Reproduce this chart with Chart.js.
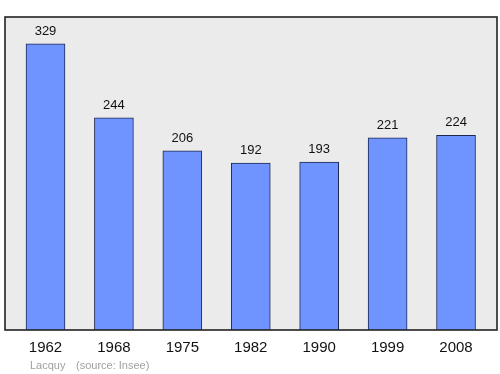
<!DOCTYPE html>
<html>
<head>
<meta charset="utf-8">
<script src="https://cdn.jsdelivr.net/npm/chart.js@4/dist/chart.umd.min.js"></script>
<style>
  html, body { margin: 0; padding: 0; background: #fff; }
  #wrap { width: 500px; height: 374px; }
</style>
</head>
<body>
<div id="wrap"><canvas id="chartBar" width="500" height="374"></canvas></div>
<script>
const years = ["1962", "1968", "1975", "1982", "1990", "1999", "2008"];
const population = [329, 244, 206, 192, 193, 221, 224];
const footerPlace = "Lacquy";
const footerSource = "(source: Insee)";

// grey plot background + black frame
const plotFrame = {
    id: 'plotFrame',
    beforeDatasetsDraw(chart) {
        const { ctx, chartArea: a } = chart;
        ctx.save();
        ctx.fillStyle = '#ebebeb';
        ctx.fillRect(a.left, a.top, a.right - a.left, a.bottom - a.top);
        ctx.restore();
    },
    afterDatasetsDraw(chart) {
        const { ctx, chartArea: a } = chart;
        ctx.save();
        // value labels
        ctx.font = '13px "Liberation Sans", Arial, sans-serif';
        ctx.fillStyle = '#111';
        ctx.textAlign = 'center';
        ctx.textBaseline = 'alphabetic';
        chart.getDatasetMeta(0).data.forEach((bar, i) => {
            ctx.fillText(String(population[i]), bar.x, bar.y - 9);
        });
        ctx.strokeStyle = '#222';
        ctx.lineWidth = 1.6;
        ctx.strokeRect(a.left, a.top, a.right - a.left, a.bottom - a.top);
        // footer
        ctx.font = '11px "Liberation Sans", Arial, sans-serif';
        ctx.fillStyle = '#a0a0a0';
        ctx.textAlign = 'left';
        ctx.fillText(footerPlace, 30, 369);
        ctx.fillText(footerSource, 76, 369);
        ctx.restore();
    }
};

const dataBar = {
    datasets: [{
        data: population.map((v, i) => ({ x: i, y: v })),
        backgroundColor: 'rgb(112, 148, 255)',
        borderColor: '#1c2850',
        borderWidth: 1,
        barThickness: 39,
    }],
};

const configBarChart = {
    type: 'bar',
    data: dataBar,
    options: {
        responsive: false,
        animation: false,
        layout: { padding: { left: 5, right: 3, top: 17, bottom: 8 } },
        plugins: {
            legend: { display: false },
            tooltip: { enabled: false },
        },
        scales: {
            x: {
                type: 'linear',
                offset: false,
                min: -0.592,
                max: 6.599,
                afterBuildTicks: (scale) => {
                    scale.ticks = years.map((_, i) => ({ value: i }));
                },
                grid: { display: false, drawTicks: false },
                border: { display: false },
                ticks: {
                    padding: 9,
                    autoSkip: false,
                    maxRotation: 0,
                    color: '#111',
                    font: { size: 15, family: '"Liberation Sans", Arial, sans-serif' },
                    callback: (v) => years[v] ?? '',
                },
            },
            y: {
                display: false,
                min: 0,
                max: 360,
            },
        },
    },
    plugins: [plotFrame],
};

var chartBar = new Chart(
    document.getElementById('chartBar'),
    configBarChart
);
</script>
</body>
</html>
